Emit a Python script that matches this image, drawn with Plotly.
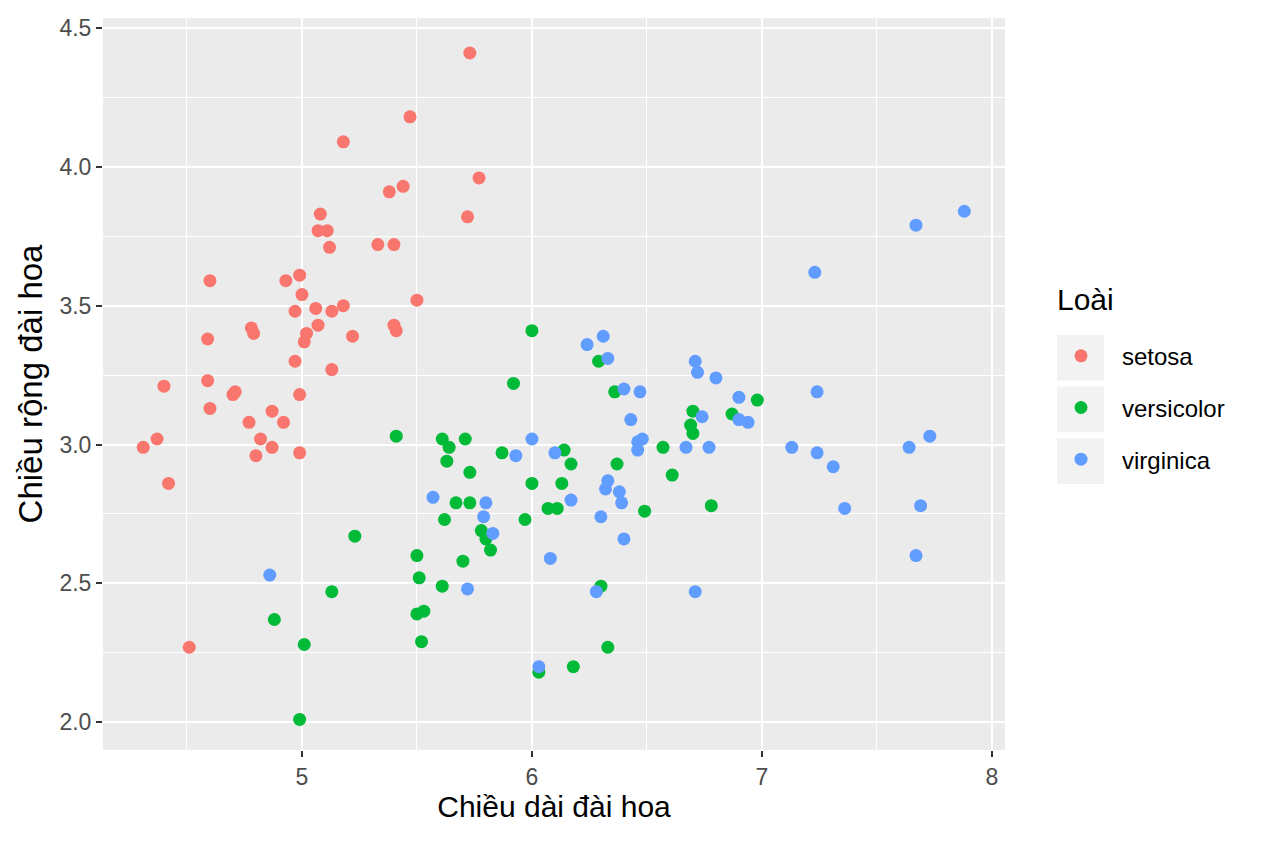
import plotly.graph_objects as go

# values (sepal length / sepal width, jittered)
setosa_x = [5.73, 5.47, 5.18, 5.77, 5.44, 5.38, 5.72, 5.08, 5.07, 5.11,
            5.12, 5.33, 5.40, 4.60, 4.93, 4.99, 5.00, 5.50, 5.18, 5.06,
            4.97, 5.13, 5.40, 5.41, 5.07, 5.02, 5.01, 5.22, 4.78, 4.79,
            4.59, 4.97, 5.13, 4.40, 4.59, 4.70, 4.71, 4.99, 4.60, 4.87,
            4.77, 4.92, 4.37, 4.82, 4.31, 4.87, 4.99, 4.80, 4.42, 4.51]
setosa_y = [4.41, 4.18, 4.09, 3.96, 3.93, 3.91, 3.82, 3.83, 3.77, 3.77,
            3.71, 3.72, 3.72, 3.59, 3.59, 3.61, 3.54, 3.52, 3.50, 3.49,
            3.48, 3.48, 3.43, 3.41, 3.43, 3.40, 3.37, 3.39, 3.42, 3.40,
            3.38, 3.30, 3.27, 3.21, 3.23, 3.18, 3.19, 3.18, 3.13, 3.12,
            3.08, 3.08, 3.02, 3.02, 2.99, 2.99, 2.97, 2.96, 2.86, 2.27]

versicolor_x = [6.00, 6.29, 5.92, 6.36, 6.70, 6.87, 6.98, 6.69, 6.70, 5.41,
                5.61, 5.64, 5.71, 5.63, 5.73, 5.87, 6.14, 6.17, 6.00, 6.13,
                6.37, 6.57, 6.61, 6.78, 6.49, 5.67, 5.73, 5.62, 5.97, 6.07,
                6.11, 5.78, 5.80, 5.82, 5.50, 5.70, 5.23, 5.51, 5.61, 5.13,
                4.88, 5.01, 5.50, 5.53, 5.52, 6.30, 6.33, 6.03, 6.18, 4.99]
versicolor_y = [3.41, 3.30, 3.22, 3.19, 3.12, 3.11, 3.16, 3.07, 3.04, 3.03,
                3.02, 2.99, 3.02, 2.94, 2.90, 2.97, 2.98, 2.93, 2.86, 2.86,
                2.93, 2.99, 2.89, 2.78, 2.76, 2.79, 2.79, 2.73, 2.73, 2.77,
                2.77, 2.69, 2.66, 2.62, 2.60, 2.58, 2.67, 2.52, 2.49, 2.47,
                2.37, 2.28, 2.39, 2.40, 2.29, 2.49, 2.27, 2.18, 2.20, 2.01]

virginica_x = [7.88, 7.67, 7.23, 6.24, 6.31, 6.33, 6.40, 6.47, 6.71, 6.72,
               6.80, 6.90, 6.74, 6.90, 6.94, 6.43, 6.46, 6.48, 6.46, 6.67,
               6.77, 6.00, 5.93, 6.10, 6.17, 6.33, 6.32, 6.38, 6.39, 6.30,
               6.40, 5.57, 5.80, 5.79, 5.83, 6.08, 4.86, 5.72, 6.28, 6.71,
               6.03, 7.24, 7.13, 7.24, 7.31, 7.64, 7.73, 7.36, 7.69, 7.67]
virginica_y = [3.84, 3.79, 3.62, 3.36, 3.39, 3.31, 3.20, 3.19, 3.30, 3.26,
               3.24, 3.17, 3.10, 3.09, 3.08, 3.09, 3.01, 3.02, 2.98, 2.99,
               2.99, 3.02, 2.96, 2.97, 2.80, 2.87, 2.84, 2.83, 2.79, 2.74,
               2.66, 2.81, 2.79, 2.74, 2.68, 2.59, 2.53, 2.48, 2.47, 2.47,
               2.20, 3.19, 2.99, 2.97, 2.92, 2.99, 3.03, 2.77, 2.78, 2.60]

species = ["setosa", "versicolor", "virginica"]
colors = ["#F8766D", "#00BA38", "#619CFF"]
xs = [setosa_x, versicolor_x, virginica_x]
ys = [setosa_y, versicolor_y, virginica_y]

fig = go.Figure()
for name, col, x, y in zip(species, colors, xs, ys):
    fig.add_trace(go.Scatter(
        x=x, y=y, mode="markers", name=name, legendgroup=name,
        marker=dict(color=col, size=13, line=dict(width=0)),
    ))

# panel edges in screen pixels; page body has an 8px margin
L, R, T, B = 103, 1005, 15, 750
OFF = 8
W, H = 1264 - OFF, 848 - OFF


def px(xp, yp):
    return (xp - L) / (R - L), (B - yp) / (B - T)


# grey key boxes behind legend symbols, like ggplot
for cy in [356, 408, 460]:
    x0, y0 = px(1057, cy - 23)
    x1, y1 = px(1104, cy + 23)
    fig.add_shape(type="rect", xref="paper", yref="paper",
                  x0=x0, x1=x1, y0=y1, y1=y0,
                  fillcolor="#F2F2F2", line=dict(width=0), layer="below")

tx, ty = px(1055, 298)
fig.add_annotation(text="Loài", xref="paper", yref="paper", x=tx, y=ty,
                   xanchor="left", yanchor="middle", showarrow=False,
                   font=dict(size=30, color="black"))

axis_common = dict(
    showgrid=True, gridcolor="white", gridwidth=2.4,
    zeroline=False, showline=False,
    ticks="outside", ticklen=6, tickwidth=1.6, tickcolor="#333333",
    tickfont=dict(size=23, color="#4D4D4D"),
)

fig.update_xaxes(
    **axis_common, range=[4.135, 8.057], tick0=0, dtick=1,
    minor=dict(dtick=0.5, showgrid=True, gridcolor="white", gridwidth=1.2),
    title=dict(text="Chiều dài đài hoa", font=dict(size=30, color="black"),
               standoff=6),
)
fig.update_yaxes(
    **axis_common, range=[1.9, 4.536], tick0=0, dtick=0.5, tickformat=".1f",
    minor=dict(dtick=0.25, showgrid=True, gridcolor="white", gridwidth=1.2),
    title=dict(text="Chiều rộng đài hoa", font=dict(size=33, color="black"),
               standoff=6),
)

lx, ly = px(1040, 332)
fig.update_layout(
    width=W, height=H,
    margin=dict(l=L - OFF, r=W - (R - OFF), t=T - OFF, b=H - (B - OFF)),
    plot_bgcolor="#EBEBEB", paper_bgcolor="white",
    font=dict(family="Liberation Sans, Arial, sans-serif", color="black"),
    legend=dict(
        font=dict(size=24), x=lx, y=ly, xanchor="left", yanchor="top",
        bgcolor="rgba(0,0,0,0)", tracegroupgap=17.5, itemwidth=72,
    ),
)

fig.write_html("out.html")
